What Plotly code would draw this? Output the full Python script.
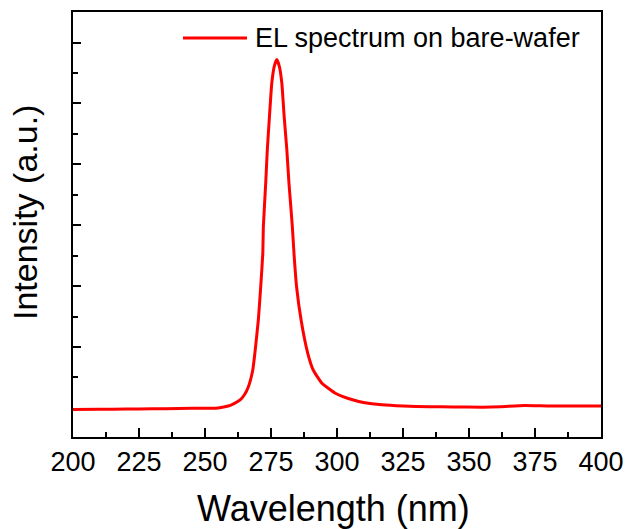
import plotly.graph_objects as go

series_name = "EL spectrum on bare-wafer"
x_title = "Wavelength (nm)"
y_title = "Intensity (a.u.)"

wavelength = [200, 210, 220, 230, 240, 250, 255, 258.8, 261, 263.3, 265, 266.4, 268.1, 268.9,
              270.2, 271.1, 271.9, 272.1, 273.0, 273.6, 274.4, 275.3, 276.3, 277.2,
              278.2, 279.1, 280.0, 281.0, 281.8, 283.1, 283.7, 284.7, 286.4, 288.9,
              291.0, 294.2, 299.2, 302, 306.2, 310, 317, 325, 335, 344, 355, 362, 371, 380, 390, 400]
intensity = [-0.026, -0.023, -0.018, -0.015, -0.010, -0.005, 0.0, 0.03, 0.07, 0.13, 0.22, 0.343, 0.622, 0.901,
             1.443, 1.985, 2.543, 2.970, 3.693, 4.235, 4.777, 5.335, 5.62, 5.72,
             5.60, 5.335, 4.777, 4.235, 3.693, 2.970, 2.543, 1.985, 1.443, 0.901,
             0.622, 0.409, 0.245, 0.19, 0.13, 0.09, 0.05, 0.03, 0.02, 0.015, 0.012, 0.02, 0.039, 0.031, 0.03, 0.03]

x_ticks = [200, 225, 250, 275, 300, 325, 350, 375, 400]
y_ticks = [1, 2, 3, 4, 5, 6]

FONT = "Arial, Liberation Sans, sans-serif"
W, H = 627, 529
L, R, T, B = 73, 26, 12, 92
PW, PH = W - L - R, H - T - B


def px_x(px):
    return (px - L) / PW


def px_y(py):
    return (H - B - py) / PH


fig = go.Figure()
fig.add_trace(go.Scatter(
    x=wavelength, y=intensity, mode="lines", name=series_name,
    line=dict(color="#ff0000", width=3, shape="spline", smoothing=0.4),
    showlegend=False,
))

axis_common = dict(
    showgrid=False, zeroline=False, showline=True, linecolor="black", linewidth=2,
    mirror=True, ticks="inside", tickcolor="black", tickwidth=2, automargin=False,
)

fig.update_layout(
    width=W, height=H,
    margin=dict(l=L, r=R, t=T, b=B),
    paper_bgcolor="white", plot_bgcolor="white",
    font=dict(family=FONT, color="black"),
    xaxis=dict(
        **axis_common,
        range=[200, 400], tickvals=x_ticks, ticklen=9,
        tickfont=dict(size=27, family=FONT),
        minor=dict(ticks="inside", dtick=12.5, tick0=200, ticklen=5, tickcolor="black", tickwidth=2),
    ),
    yaxis=dict(
        **axis_common,
        range=[-0.478, 6.501], tickvals=y_ticks, ticklen=8, showticklabels=False,
        minor=dict(ticks="inside", dtick=1, tick0=0.5, ticklen=5, tickcolor="black", tickwidth=2),
    ),
)

# axis titles
fig.add_annotation(xref="paper", yref="paper", x=px_x(333), y=px_y(508),
                   text=x_title, showarrow=False, xanchor="center", yanchor="middle",
                   font=dict(size=36, family=FONT, color="black"))
fig.add_annotation(xref="paper", yref="paper", x=px_x(25), y=px_y(213),
                   text=y_title, showarrow=False, textangle=-90, xanchor="center", yanchor="middle",
                   font=dict(size=34, family=FONT, color="black"))

# legend drawn as a line sample + label
fig.add_shape(type="line", xref="paper", yref="paper",
              x0=px_x(183), x1=px_x(247), y0=px_y(38), y1=px_y(38),
              line=dict(color="#ff0000", width=3))
fig.add_annotation(xref="paper", yref="paper", x=px_x(253), y=px_y(37.5),
                   text=series_name, showarrow=False, xanchor="left", yanchor="middle",
                   font=dict(size=27, family=FONT, color="black"))

fig.write_html("out.html", config={"displayModeBar": False},
               post_script="document.body.style.margin='0';")
